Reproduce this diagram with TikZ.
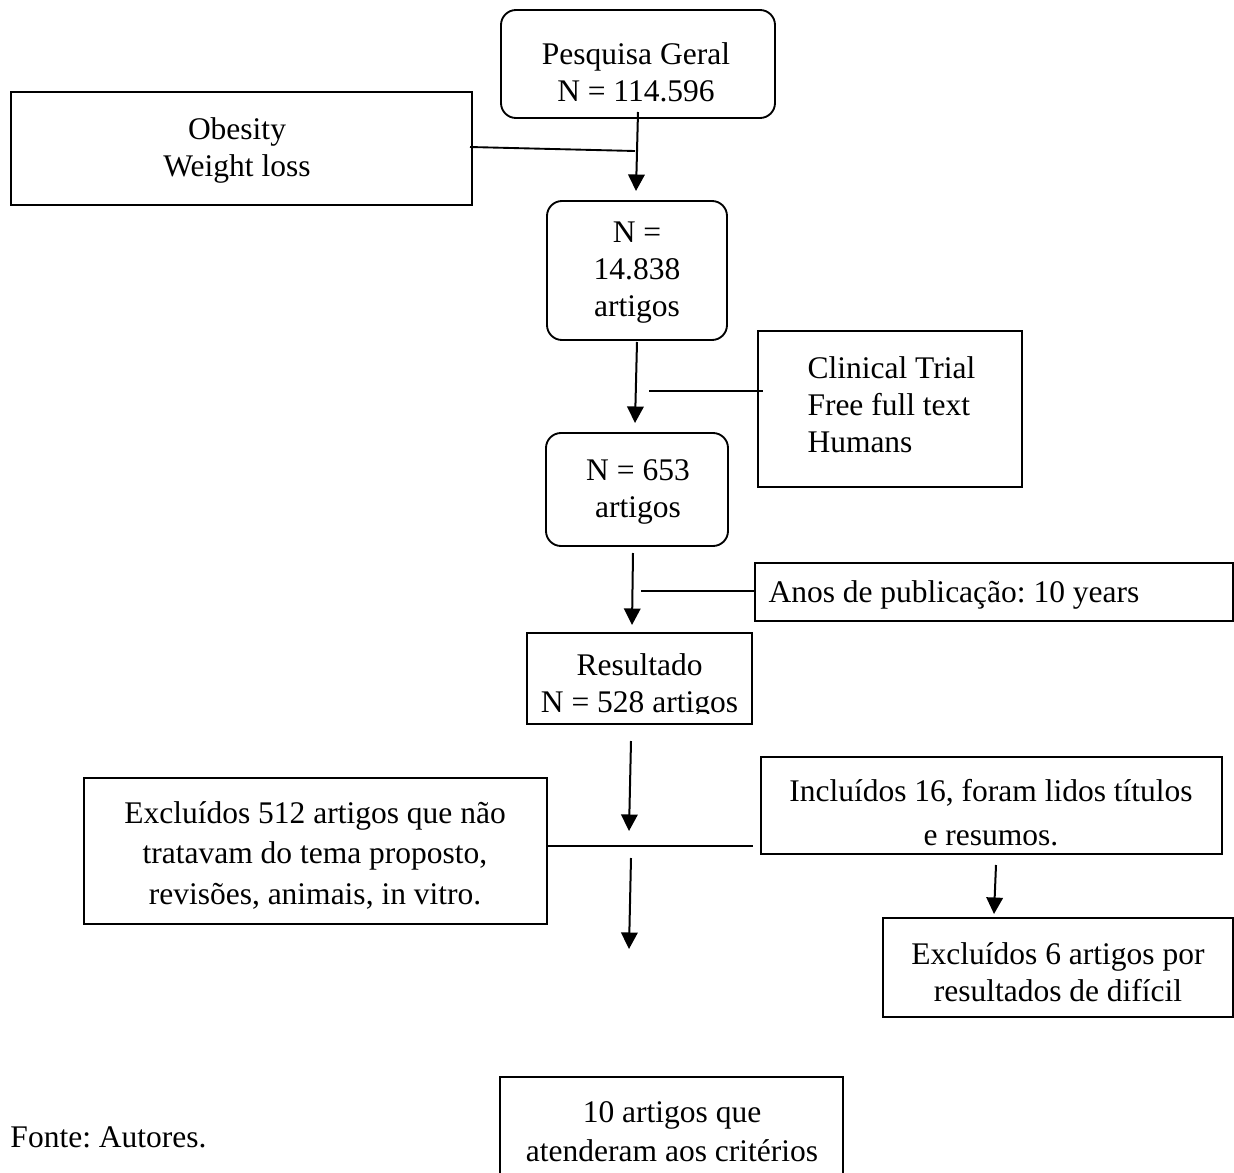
\documentclass[tikz,border=0pt]{standalone}
\usepackage{fontspec}
\setmainfont{Liberation Serif}
\frenchspacing
\usetikzlibrary{arrows.meta}
\begin{document}
\begin{tikzpicture}[x=0.4pt,y=-0.4pt,
  sz/.style 2 args={minimum width=#1*0.4pt, minimum height=#2*0.4pt},
  box/.style={draw, line width=0.75pt, inner sep=0pt},
  rbox/.style={box, rounded corners=6pt},
  txt/.style={inner sep=0pt, align=center, font=\fontsize{12.6}{14.8}\selectfont},
  arr/.style={line width=0.8pt, -{Triangle[length=6.6pt,width=6.6pt]}},
  ln/.style={line width=0.75pt}]
\useasboundingbox (0,0) rectangle (1234,1173);

% boxes
\node[rbox, sz={274}{108}] (pg) at (638,64) {};
\node[txt] (pgt) at (636,72) {Pesquisa Geral\\N = 114.596};

\node[box, sz={461}{113}] (ob) at (241.5,148.5) {};
\node[txt] (obt) at (237,150) {Obesity\\Weight loss};

\node[rbox, sz={180}{139}] (n1) at (637,270.5) {};
\node[txt] (n1t) at (637,273) {N =\\14.838\\artigos};

\node[box, sz={264}{156}] (ct) at (890,409) {};
\node[txt, align=left, anchor=west] (ctt) at (807,405) {Clinical Trial\\Free full text\\Humans};

\node[rbox, sz={182}{113}] (n2) at (637,489.5) {};
\node[txt] (n2t) at (638,492) {N = 653\\artigos};

\node[box, sz={478}{58}] (an) at (994,592) {};
\node[txt, anchor=west] (ant) at (768,595) {Anos de publicação: 10 years};

\begin{scope}
\clip (527,633) rectangle (752,713);
\node[txt] (rst) at (639.5,686) {Resultado\\N = 528 artigos};
\end{scope}
\node[box, sz={225}{91}] (rs) at (639.5,678.5) {};

\node[box, sz={463}{146}] (ex) at (315.5,851) {};
\node[txt, font=\fontsize{12.6}{16.2}\selectfont] (ext) at (315,855) {Excluídos 512 artigos que não\\tratavam do tema proposto,\\revisões, animais, in vitro.};

\node[box, sz={461}{97}] (in) at (991.5,805.5) {};
\node[txt, font=\fontsize{12.6}{17.6}\selectfont] (int) at (991,813) {Incluídos 16, foram lidos títulos\\e resumos.};

\node[box, sz={350}{99}] (e6) at (1058,967.5) {};
\node[txt] (e6t) at (1058,972) {Excluídos 6 artigos por\\resultados de difícil};

\coordinate (finA) at (500,1180);
\coordinate (finB) at (843,1180);
\draw[ln] (finA) -- (500,1077) -- (843,1077) -- (finB);
\node[txt, font=\fontsize{12.6}{15.6}\selectfont] (fint) at (672,1132) {10 artigos que\\atenderam aos critérios};

\node[txt, anchor=west] (fonte) at (10,1137) {Fonte: Autores.};

% connector ends
\coordinate (a1s) at (638,112);  \coordinate (a1e) at (636,191);
\coordinate (l1s) at (470,147);  \coordinate (l1e) at (635,151);
\coordinate (a2s) at (637,342);  \coordinate (a2e) at (635,423);
\coordinate (l2s) at (649,391);  \coordinate (l2e) at (763,391);
\coordinate (a3s) at (633,553);  \coordinate (a3e) at (632,625);
\coordinate (l3s) at (641,591);  \coordinate (l3e) at (755,591);
\coordinate (a4s) at (631,741);  \coordinate (a4e) at (629,831);
\coordinate (l4s) at (547,846);  \coordinate (l4e) at (753,846);
\coordinate (a5s) at (631,858);  \coordinate (a5e) at (629,949);
\coordinate (a6s) at (996,865);  \coordinate (a6e) at (994,914);

\draw[arr] (a1s) -- (a1e);
\draw[ln] (l1s) -- (l1e);
\draw[arr] (a2s) -- (a2e);
\draw[ln] (l2s) -- (l2e);
\draw[arr] (a3s) -- (a3e);
\draw[ln] (l3s) -- (l3e);
\draw[arr] (a4s) -- (a4e);
\draw[ln] (l4s) -- (l4e);
\draw[arr] (a5s) -- (a5e);
\draw[arr] (a6s) -- (a6e);
\end{tikzpicture}
\end{document}
